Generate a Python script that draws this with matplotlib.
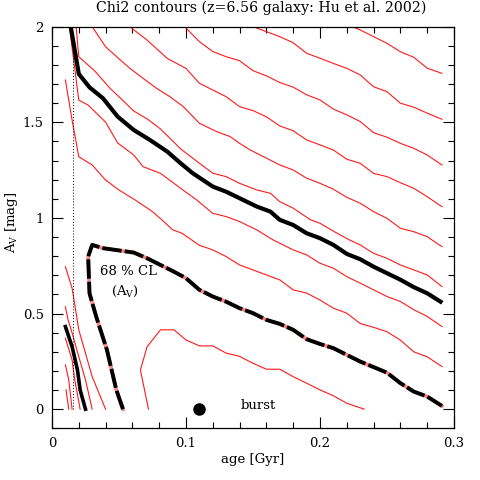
import matplotlib
matplotlib.use('Agg')
import matplotlib.pyplot as plt
from matplotlib.ticker import MultipleLocator, FormatStrFormatter

plt.rcParams['font.family'] = ['DejaVu Serif']
plt.rcParams['mathtext.fontset'] = 'dejavuserif'

# red chi2 contours, upper right to lower left
red1_x = [0.224, 0.230, 0.240, 0.250, 0.260, 0.270, 0.280, 0.291]
red1_y = [2.0, 1.983, 1.948, 1.913, 1.869, 1.840, 1.783, 1.756]

red2_x = [0.150, 0.160, 0.170, 0.180, 0.190, 0.200, 0.210, 0.220, 0.230, 0.240,
          0.250, 0.260, 0.270, 0.280, 0.291]
red2_y = [2.0, 1.974, 1.948, 1.916, 1.861, 1.835, 1.808, 1.782, 1.748, 1.686,
          1.660, 1.600, 1.579, 1.548, 1.516]

red3_x = [0.099, 0.110, 0.120, 0.130, 0.140, 0.150, 0.160, 0.170, 0.180, 0.190,
          0.200, 0.210, 0.220, 0.230, 0.240, 0.250, 0.260, 0.270, 0.280, 0.291]
red3_y = [2.0, 1.922, 1.870, 1.843, 1.822, 1.770, 1.743, 1.708, 1.684, 1.644,
          1.617, 1.569, 1.539, 1.504, 1.446, 1.422, 1.390, 1.364, 1.329, 1.277]

red4_x = [0.058, 0.071, 0.086, 0.100, 0.110, 0.120, 0.130, 0.140, 0.150, 0.160,
          0.170, 0.180, 0.190, 0.200, 0.210, 0.220, 0.230, 0.240, 0.250, 0.260,
          0.270, 0.280, 0.291]
red4_y = [2.0, 1.930, 1.834, 1.782, 1.704, 1.669, 1.634, 1.582, 1.561, 1.529,
          1.481, 1.456, 1.408, 1.382, 1.355, 1.307, 1.286, 1.233, 1.216, 1.184,
          1.155, 1.111, 1.059]

red5_x = [0.030, 0.040, 0.051, 0.058, 0.068, 0.078, 0.088, 0.098, 0.110, 0.123,
          0.133, 0.140, 0.148, 0.158, 0.170, 0.180, 0.190, 0.200, 0.210, 0.220,
          0.230, 0.240, 0.250, 0.260, 0.270, 0.280, 0.291]
red5_y = [2.0, 1.895, 1.826, 1.783, 1.730, 1.678, 1.634, 1.582, 1.495, 1.451,
          1.425, 1.390, 1.355, 1.320, 1.277, 1.251, 1.208, 1.181, 1.150, 1.108,
          1.077, 1.033, 0.998, 0.946, 0.928, 0.902, 0.850]

red6_x = [0.018, 0.020, 0.032, 0.043, 0.051, 0.061, 0.071, 0.081, 0.096, 0.110,
          0.120, 0.130, 0.140, 0.153, 0.163, 0.170, 0.180, 0.193, 0.200, 0.211,
          0.222, 0.230, 0.240, 0.250, 0.260, 0.270, 0.280, 0.291]
red6_y = [2.0, 1.843, 1.768, 1.680, 1.627, 1.559, 1.518, 1.465, 1.361, 1.286,
          1.234, 1.216, 1.181, 1.146, 1.129, 1.085, 1.051, 0.990, 0.972, 0.927,
          0.885, 0.859, 0.815, 0.789, 0.754, 0.728, 0.702, 0.641]

red7_x = [0.013, 0.020, 0.027, 0.040, 0.049, 0.061, 0.068, 0.081, 0.096, 0.108,
          0.120, 0.130, 0.140, 0.153, 0.165, 0.180, 0.190, 0.200, 0.210, 0.220,
          0.230, 0.240, 0.250, 0.260, 0.270, 0.280, 0.291]
red7_y = [2.0, 1.616, 1.590, 1.501, 1.392, 1.329, 1.268, 1.233, 1.155, 1.094,
          1.024, 1.007, 0.981, 0.937, 0.885, 0.833, 0.807, 0.763, 0.737, 0.693,
          0.659, 0.624, 0.589, 0.563, 0.520, 0.485, 0.432]

red8_x = [0.010, 0.015, 0.020, 0.030, 0.040, 0.050, 0.062, 0.075, 0.082, 0.090,
          0.097, 0.110, 0.120, 0.130, 0.140, 0.150, 0.160, 0.170, 0.180, 0.190,
          0.200, 0.210, 0.220, 0.230, 0.240, 0.250, 0.260, 0.270, 0.280, 0.291]
red8_y = [1.721, 1.512, 1.320, 1.277, 1.198, 1.146, 1.094, 1.033, 0.990, 0.938,
          0.920, 0.857, 0.833, 0.798, 0.754, 0.728, 0.702, 0.676, 0.624, 0.607,
          0.571, 0.528, 0.502, 0.448, 0.428, 0.405, 0.361, 0.300, 0.274, 0.223]

red9_x = [0.072, 0.066, 0.071, 0.081, 0.091, 0.100, 0.110, 0.120, 0.130, 0.140,
          0.150, 0.160, 0.170, 0.180, 0.190, 0.200, 0.210, 0.220, 0.233]
red9_y = [0.0, 0.205, 0.327, 0.415, 0.415, 0.362, 0.331, 0.331, 0.293, 0.276,
          0.240, 0.209, 0.209, 0.170, 0.136, 0.101, 0.070, 0.031, 0.0]

# short contours at the youngest ages
red_b_x = [0.010, 0.015, 0.020, 0.030, 0.040]
red_b_y = [0.745, 0.633, 0.415, 0.170, 0.0]
red_c_x = [0.010, 0.012, 0.015, 0.020, 0.025, 0.030]
red_c_y = [0.536, 0.467, 0.399, 0.275, 0.153, 0.0]
red_d_x = [0.010, 0.015, 0.017, 0.021]
red_d_y = [0.371, 0.258, 0.153, 0.0]
red_e_x = [0.010, 0.0125, 0.015]
red_e_y = [0.232, 0.153, 0.0]
red_f_x = [0.0105, 0.0125]
red_f_y = [0.101, 0.0]

# thick black contours
black_x = [0.014, 0.020, 0.028, 0.038, 0.049, 0.061, 0.073, 0.086, 0.096, 0.105,
           0.120, 0.130, 0.140, 0.153, 0.163, 0.170, 0.180, 0.190, 0.200, 0.210,
           0.220, 0.230, 0.240, 0.250, 0.260, 0.270, 0.280, 0.290]
black_y = [2.0, 1.753, 1.683, 1.626, 1.530, 1.460, 1.408, 1.347, 1.286, 1.234,
           1.164, 1.137, 1.103, 1.059, 1.033, 0.990, 0.963, 0.920, 0.894, 0.859,
           0.812, 0.784, 0.745, 0.711, 0.677, 0.638, 0.606, 0.562]
black_small_x = [0.010, 0.015, 0.019, 0.021, 0.025]
black_small_y = [0.432, 0.327, 0.205, 0.101, 0.0]

# 68 % CL contour (dashed)
cl_x = [0.053, 0.048, 0.041, 0.033, 0.028, 0.027, 0.030, 0.038, 0.051, 0.061,
        0.071, 0.081, 0.091, 0.100, 0.110, 0.120, 0.130, 0.140, 0.150, 0.160,
        0.170, 0.180, 0.190, 0.200, 0.210, 0.220, 0.230, 0.240, 0.250, 0.260,
        0.270, 0.280, 0.291]
cl_y = [0.0, 0.101, 0.310, 0.484, 0.606, 0.798, 0.859, 0.842, 0.829, 0.819,
        0.789, 0.754, 0.719, 0.685, 0.624, 0.589, 0.562, 0.528, 0.502, 0.467,
        0.446, 0.415, 0.366, 0.341, 0.319, 0.284, 0.249, 0.220, 0.191, 0.136,
        0.092, 0.066, 0.017]

dotted_x = 0.0155
burst_age, burst_av = 0.11, 0.0

fs = 9.5
fig = plt.figure(figsize=(4.8, 4.8), dpi=100)
ax = fig.add_axes([0.1083, 0.1077, 0.8375, 0.8367])

red = '#ff1a1a'
reds = [(red1_x, red1_y), (red2_x, red2_y), (red3_x, red3_y), (red4_x, red4_y),
        (red5_x, red5_y), (red6_x, red6_y), (red7_x, red7_y), (red8_x, red8_y),
        (red9_x, red9_y), (red_b_x, red_b_y), (red_c_x, red_c_y),
        (red_d_x, red_d_y), (red_e_x, red_e_y), (red_f_x, red_f_y)]
for xs, ys in reds:
    ax.plot(xs, ys, color=red, lw=0.8)

ax.plot(black_x, black_y, color='black', lw=3.0, solid_joinstyle='round')
ax.plot(black_small_x, black_small_y, color='black', lw=2.6)
ax.plot(cl_x, cl_y, color='#ff8080', lw=2.6)
ax.plot(cl_x, cl_y, color='black', lw=2.8, linestyle=(0, (5, 0.8)))

ax.plot([dotted_x, dotted_x], [0, 1.88], color='black', lw=0.7, linestyle=(0, (1, 2)))
ax.plot([burst_age], [burst_av], 'o', color='black', markersize=8)

ax.text(0.1405, 0.02, 'burst', fontsize=fs, va='center', ha='left')
ax.text(0.057, 0.72, '68 % CL', fontsize=fs, va='center', ha='center')
ax.text(0.0545, 0.615, r'(A$_\mathrm{V}$)', fontsize=fs, va='center', ha='center')

ax.set_xlim(0, 0.3)
ax.set_ylim(-0.1, 2)
ax.xaxis.set_major_locator(MultipleLocator(0.1))
ax.xaxis.set_minor_locator(MultipleLocator(0.02))
ax.yaxis.set_major_locator(MultipleLocator(0.5))
ax.yaxis.set_minor_locator(MultipleLocator(0.1))
ax.xaxis.set_major_formatter(FormatStrFormatter('%g'))
ax.yaxis.set_major_formatter(FormatStrFormatter('%g'))
ax.tick_params(which='both', direction='in', top=True, right=True, labelsize=fs, width=0.8)
ax.tick_params(which='major', length=8, pad=6)
ax.tick_params(which='minor', length=4.5)
for s in ax.spines.values():
    s.set_linewidth(0.9)

fig.text(253 / 480, 1 - 460 / 480, 'age [Gyr]', fontsize=fs, ha='center', va='center')
fig.text(11 / 480, 1 - 222 / 480, r'A$_\mathrm{V}$ [mag]', fontsize=fs,
         ha='center', va='center', rotation=90)
fig.text(261 / 480, 1 - 8 / 480, 'Chi2 contours (z=6.56 galaxy: Hu et al. 2002)',
         fontsize=10.2, ha='center', va='center')

fig.savefig('out.png', dpi=100)
